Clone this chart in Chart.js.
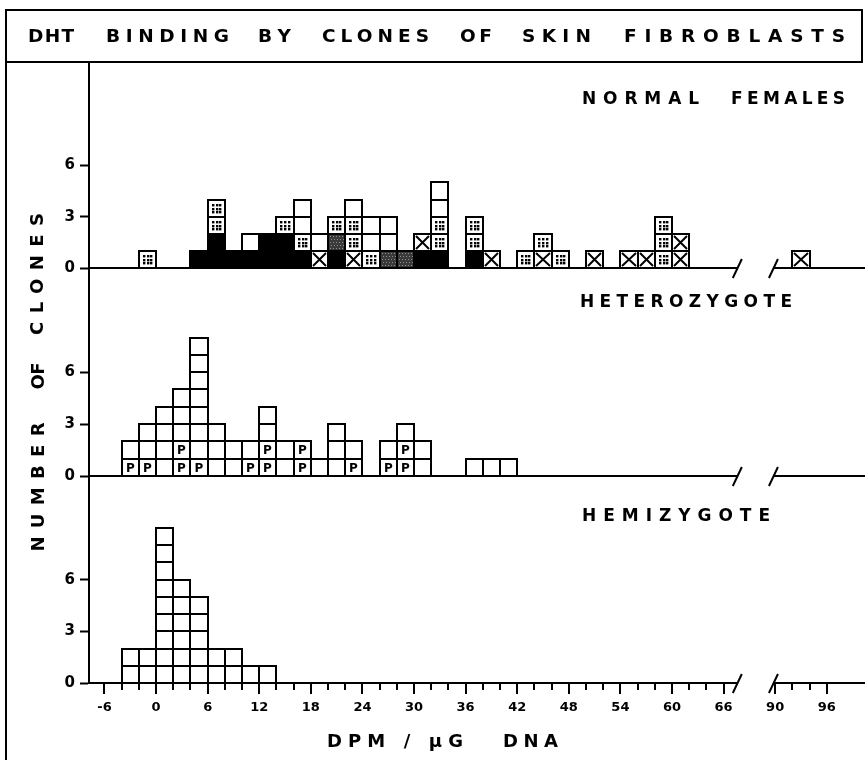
<!DOCTYPE html>
<html>
<head>
<meta charset="utf-8">
<script src="https://cdn.jsdelivr.net/npm/chart.js@4.4.1/dist/chart.umd.min.js"></script>
<style>
html, body { margin: 0; padding: 0; background: #fff; }
#wrap { position: relative; width: 865px; height: 760px; overflow: hidden; background: #fff; }
canvas { position: absolute; left: 0; top: 0; }
.rule { position: absolute; background: #000; }
.word { position: absolute; white-space: nowrap; font-family: "DejaVu Sans", sans-serif; font-weight: bold; color: #000; line-height: 1; }
</style>
</head>
<body>
<div id="wrap">
  <div class="rule" style="left:5px; top:9px; width:858px; height:2px;"></div>
  <div class="rule" style="left:5px; top:61px; width:858px; height:2px;"></div>
  <div class="rule" style="left:5px; top:9px; width:2px; height:751px;"></div>
  <div class="rule" style="left:861px; top:9px; width:2px; height:54px;"></div>
  <canvas id="cNormal" width="865" height="760"></canvas>
  <canvas id="cHetero" width="865" height="760"></canvas>
  <canvas id="cHemi" width="865" height="760"></canvas>
</div>
<script>
// ---------------- DATA ----------------
// Each bin is 2 DPM/ug DNA wide; listed by its lower edge.
// Stacks list the clones in a bin from bottom to top:
// B = black, G = grey stipple, D = dotted, X = crossed, O = open, P = open marked "P"
const BIN_WIDTH = 2;

const NORMAL_BINS   = [-2, 4, 6, 8, 10, 12, 14, 16, 18, 20, 22, 24, 26, 28, 30, 32, 36, 38, 42, 44, 46, 50, 54, 56, 58, 60, 92];
const NORMAL_STACKS = ['D', 'B', 'BBDD', 'B', 'BO', 'BB', 'BBD', 'BDOO', 'XO', 'BGD', 'XDDO', 'DOO', 'GOO', 'G', 'BX', 'BDDOO', 'BDD', 'X', 'D', 'XD', 'D', 'X', 'X', 'X', 'DDD', 'XX', 'X'];

const HETERO_BINS   = [-4, -2, 0, 2, 4, 6, 8, 10, 12, 14, 16, 18, 20, 22, 26, 28, 30, 36, 38, 40];
const HETERO_STACKS = ['PO', 'POO', 'OOOO', 'PPOOO', 'POOOOOOO', 'OOO', 'OO', 'PO', 'PPOO', 'OO', 'PP', 'O', 'OOO', 'PO', 'PO', 'PPO', 'OO', 'O', 'O', 'O'];

const HEMI_BINS   = [-4, -2, 0, 2, 4, 6, 8, 10, 12];
const HEMI_COUNTS = [2, 2, 9, 6, 5, 2, 2, 1, 1];

const X_TICK_VALUES = [-6, 0, 6, 12, 18, 24, 30, 36, 42, 48, 54, 60, 66, 90, 96];
const X_TICK_LABELS = ['-6', '0', '6', '12', '18', '24', '30', '36', '42', '48', '54', '60', '66', '90', '96'];
const Y_TICK_VALUES = [0, 3, 6];

const PANEL_LABELS = ['NORMAL FEMALES', 'HETEROZYGOTE', 'HEMIZYGOTE'];
const TITLE = 'DHT BINDING BY CLONES OF SKIN FIBROBLASTS';
const X_TITLE = ['DPM / \u03BCG', 'DNA'];
const Y_TITLE = 'NUMBER OF CLONES';

// axis break: values above the break are drawn shifted left by BREAK_SHIFT
const BREAK_SHIFT = 18;
const BREAK_SLASHES = [67.6, 89.8];
const X_MIN = -7.8, X_MAX = 82.1;
const Y_MAX = 12;

// ---------------- HELPERS ----------------
const toPlot = v => (v > 80 ? v - BREAK_SHIFT : v);
const FONT = '"DejaVu Sans", sans-serif';
const FILL = { B: '#000', G: '#3a3a3a', D: '#fff', X: '#fff', O: '#fff', P: '#fff' };

function datasetsFrom(bins, stacks) {
  const levels = Math.max(...stacks.map(s => s.length));
  const sets = [];
  for (let k = 0; k < levels; k++) {
    const data = [];
    bins.forEach((lo, i) => {
      const code = stacks[i][k];
      if (code) data.push({ x: toPlot(lo + BIN_WIDTH / 2), y: 1, t: code });
    });
    sets.push({
      data,
      stack: 'clones',
      backgroundColor: c => FILL[(c.raw && c.raw.t) || 'O'],
      borderWidth: 0,
      barPercentage: 1,
      categoryPercentage: 1
    });
  }
  return sets;
}

function drawMark(ctx, t, l, tp, r, b) {
  const w = r - l, h = b - tp;
  ctx.fillStyle = '#000';
  ctx.strokeStyle = '#000';
  if (t === 'D') {
    for (const fy of [0.27, 0.5, 0.73]) {
      for (const fx of [0.27, 0.5, 0.73]) {
        ctx.fillRect(Math.round(l + fx * w - 1), Math.round(tp + fy * h - 1), 2.4, 2.4);
      }
    }
  } else if (t === 'X') {
    ctx.beginPath();
    ctx.moveTo(l + 2, tp + 2); ctx.lineTo(r - 2, b - 2);
    ctx.moveTo(r - 2, tp + 2); ctx.lineTo(l + 2, b - 2);
    ctx.lineWidth = 2;
    ctx.stroke();
  } else if (t === 'P') {
    ctx.font = 'bold 12px ' + FONT;
    ctx.textAlign = 'center';
    ctx.textBaseline = 'middle';
    ctx.fillText('P', (l + r) / 2, (tp + b) / 2 + 1);
  } else if (t === 'G') {
    ctx.fillStyle = '#8c8c8c';
    for (let yy = tp + 2; yy < b - 1; yy += 3) {
      for (let xx = l + 2 + ((yy - tp) % 2); xx < r - 1; xx += 3) ctx.fillRect(xx, yy, 1, 1);
    }
  }
}

const squaresPlugin = {
  id: 'squares',
  afterDatasetsDraw(chart) {
    const ctx = chart.ctx;
    ctx.save();
    chart.data.datasets.forEach((ds, i) => {
      const meta = chart.getDatasetMeta(i);
      meta.data.forEach((el, j) => {
        const raw = ds.data[j];
        const p = el.getProps(['x', 'y', 'base', 'width'], true);
        const l = Math.round(p.x - p.width / 2), r = Math.round(p.x + p.width / 2);
        const tp = Math.round(p.y), b = Math.round(p.base);
        drawMark(ctx, raw.t, l, tp, r, b);
        ctx.lineWidth = 2;
        ctx.strokeStyle = '#000';
        ctx.strokeRect(l, tp, r - l, b - tp);
      });
    });
    ctx.restore();
  }
};

const baselinePlugin = {
  id: 'baseline',
  afterDraw(chart, args, opts) {
    const ctx = chart.ctx;
    const xs = chart.scales.x, ys = chart.scales.y;
    const y0 = Math.round(ys.getPixelForValue(0));
    const s1 = xs.getPixelForValue(toPlot(BREAK_SLASHES[0]));
    const s2 = xs.getPixelForValue(toPlot(BREAK_SLASHES[1]));
    ctx.save();
    ctx.strokeStyle = '#000';
    ctx.lineWidth = 2;
    ctx.beginPath();
    ctx.moveTo(chart.chartArea.left, y0); ctx.lineTo(s1, y0);
    ctx.moveTo(s2, y0); ctx.lineTo(chart.width, y0);
    ctx.moveTo(s1 - 4.5, y0 + 10); ctx.lineTo(s1 + 4.5, y0 - 9);
    ctx.moveTo(s2 - 4.5, y0 + 10); ctx.lineTo(s2 + 4.5, y0 - 9);
    ctx.stroke();
    if (opts.ticks) {
      const marks = [];
      for (let v = -6; v <= 66; v += 2) marks.push(v);
      for (let v = 90; v <= 96; v += 2) marks.push(v);
      ctx.beginPath();
      marks.forEach(v => {
        const px = Math.round(xs.getPixelForValue(toPlot(v)));
        const len = X_TICK_VALUES.includes(v) ? 11 : 7;
        ctx.moveTo(px, y0); ctx.lineTo(px, y0 + len);
      });
      ctx.stroke();
    }
    ctx.restore();
  }
};

function makeChart(id, datasets, top, bottom, showX) {
  const H = 760;
  return new Chart(document.getElementById(id), {
    type: 'bar',
    data: { datasets },
    options: {
      responsive: false,
      animation: false,
      events: [],
      layout: { padding: { left: 0, right: 3, top: top, bottom: showX ? 0 : H - bottom } },
      plugins: { legend: { display: false }, tooltip: { enabled: false }, title: { display: false },
                 baseline: { ticks: showX } },
      scales: {
        x: {
          type: 'linear', min: X_MIN, max: X_MAX, stacked: true, offset: false, display: showX,
          afterBuildTicks: s => { s.ticks = X_TICK_VALUES.map(v => ({ value: toPlot(v) })); },
          afterFit: s => { if (showX) s.height = H - bottom; },
          grid: { display: false, drawTicks: false },
          border: { display: false },
          ticks: { autoSkip: false, maxRotation: 0, padding: 17, color: '#000',
                   font: { family: FONT, weight: 'bold', size: 13 },
                   callback: (v, i) => X_TICK_LABELS[i] }
        },
        y: {
          min: 0, max: Y_MAX, stacked: true,
          afterBuildTicks: s => { s.ticks = Y_TICK_VALUES.map(v => ({ value: v })); },
          afterFit: s => { s.width = 89; },
          grid: { display: true, drawOnChartArea: false, drawTicks: true, tickLength: 9, tickWidth: 2, tickColor: '#000' },
          border: { display: true, color: '#000', width: 2 },
          ticks: { color: '#000', padding: 5, font: { family: FONT, weight: 'bold', size: 15 } }
        }
      }
    },
    plugins: [squaresPlugin, baselinePlugin]
  });
}

makeChart('cNormal', datasetsFrom(NORMAL_BINS, NORMAL_STACKS), 62, 268.3, false);
makeChart('cHetero', datasetsFrom(HETERO_BINS, HETERO_STACKS), 268.3, 476, false);
makeChart('cHemi', datasetsFrom(HEMI_BINS, HEMI_COUNTS.map(n => 'O'.repeat(n))), 476, 683.3, true);

// ---------------- TEXT ----------------
const wrap = document.getElementById('wrap');
const mctx = document.createElement('canvas').getContext('2d');
function placeWord(text, x1, x2, cy, size, vertical) {
  mctx.font = 'bold ' + size + 'px ' + FONT;
  const natural = mctx.measureText(text).width;
  const n = text.length;
  const len = Math.abs(x2 - x1);
  const ls = n > 1 ? (len - natural) / (n - 1) : 0;
  const el = document.createElement('div');
  el.className = 'word';
  el.textContent = text;
  el.style.fontSize = size + 'px';
  el.style.letterSpacing = ls + 'px';
  el.style.width = (len + 20) + 'px';
  const mid = (x1 + x2) / 2;
  if (!vertical) {
    el.style.left = Math.min(x1, x2) + 'px';
    el.style.top = (cy - 0.48 * size) + 'px';
  } else {
    el.style.width = len + 'px';
    el.style.height = size + 'px';
    el.style.left = (cy - len / 2) + 'px';
    el.style.top = (mid - size * 0.52) + 'px';
    el.style.transformOrigin = '50% 50%';
    el.style.transform = 'rotate(-90deg)';
  }
  wrap.appendChild(el);
}
const tw = TITLE.split(' ');
const titleSpans = [[28, 74], [106, 229], [258, 291], [322, 429], [460, 492], [522, 591], [624, 845]];
tw.forEach((w, i) => placeWord(w, titleSpans[i][0], titleSpans[i][1], 36, 18.5));

const n1 = PANEL_LABELS[0].split(' ');
placeWord(n1[0], 582, 699, 98, 17);
placeWord(n1[1], 731, 845, 98, 17);
placeWord(PANEL_LABELS[1], 580, 792, 301, 17);
placeWord(PANEL_LABELS[2], 582, 770, 515, 17);

const yw = Y_TITLE.split(' ');
placeWord(yw[0], 552, 423, 37, 18, true);
placeWord(yw[1], 390, 363, 37, 18, true);
placeWord(yw[2], 335, 213, 37, 18, true);

placeWord(X_TITLE[0], 327, 463, 741, 18);
placeWord(X_TITLE[1], 503, 558, 741, 18);
</script>
</body>
</html>
